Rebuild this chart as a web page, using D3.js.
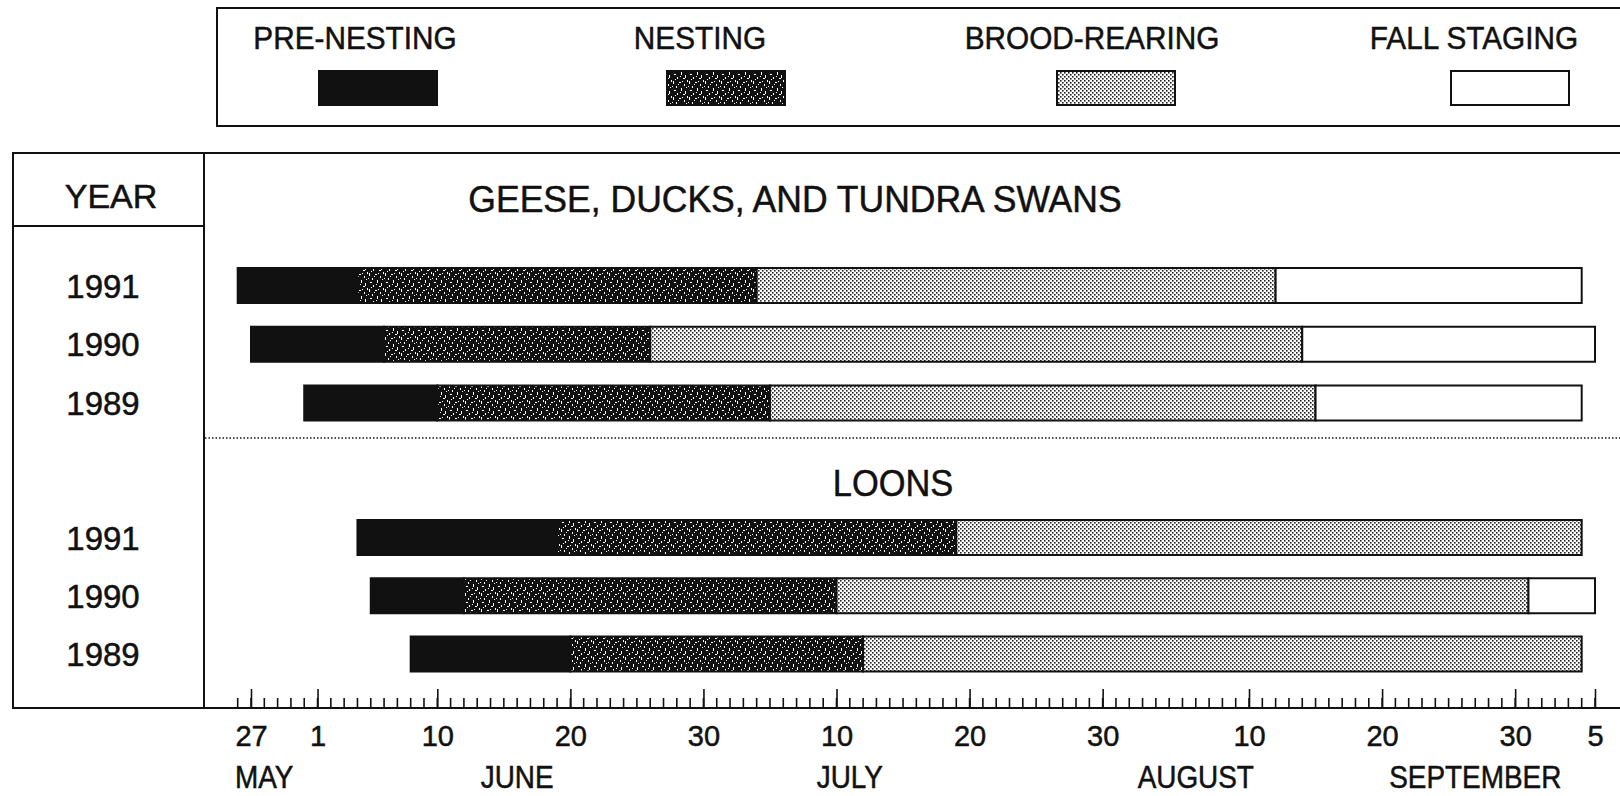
<!DOCTYPE html>
<meta charset="utf-8">
<style>
body { margin: 0; background: #fff; }
svg { display: block; }
text { font-family: "Liberation Sans", Arial, Helvetica, sans-serif; fill: #111; stroke: #111; stroke-width: 0.5; }
.frame { fill: none; stroke: #111; stroke-width: 2; }
.bar { stroke: #111; stroke-width: 2; }
.tick line, .minor { stroke: #111; stroke-width: 1.6; }
</style>
<body>
<svg></svg>
<script src="https://cdn.jsdelivr.net/npm/d3@7"></script>
<script>

// stage names, in order along each bar
const stages = ["PRE-NESTING", "NESTING", "BROOD-REARING", "FALL STAGING"];
const years = ["1991", "1990", "1989"];

// dates where each stage begins, last value = end of the bar (mm-dd)
const geese1991 = ["05-26", "06-04", "07-04", "08-12", "09-04"];
const geese1990 = ["05-27", "06-06", "06-26", "08-14", "09-05"];
const geese1989 = ["05-31", "06-10", "07-05", "08-15", "09-04"];
const loons1991 = ["06-04", "06-19", "07-19", "09-04"];
const loons1990 = ["06-05", "06-12", "07-10", "08-31", "09-05"];
const loons1989 = ["06-08", "06-20", "07-12", "09-04"];

// axis labels
const tickDates = ["05-27", "06-01", "06-10", "06-20", "06-30", "07-10", "07-20", "07-30", "08-10", "08-20", "08-30", "09-05"];
const monthNames = ["MAY", "JUNE", "JULY", "AUGUST", "SEPTEMBER"];
const monthAt = ["05-28", "06-16", "07-11", "08-06", "08-27"];

const groups = [
  {title: "GEESE, DUCKS, AND TUNDRA SWANS", rows: [geese1991, geese1990, geese1989], top: 285.5, bottom: 403, titleY: 212},
  {title: "LOONS", rows: [loons1991, loons1990, loons1989], top: 537.5, bottom: 654, titleY: 496}
];

const W = 1620, H = 796;
const frame = {left: 13, top: 153, bottom: 708, split: 204};
const parse = d3.timeParse("%m-%d");

const svg = d3.select("svg").attr("width", W).attr("height", H);

const x = d3.scaleTime()
  .domain([parse("05-27"), parse("09-05")])
  .range([251, 1595]);

function condense(sel, k) {
  sel.each(function() {
    const w = this.getComputedTextLength();
    d3.select(this).attr("textLength", w * k).attr("lengthAdjust", "spacingAndGlyphs");
  });
}

// fill patterns
const defs = svg.append("defs");
const nest = defs.append("pattern").attr("id", "nesting")
  .attr("patternUnits", "userSpaceOnUse").attr("width", 16).attr("height", 16);
nest.append("rect").attr("width", 16).attr("height", 16).attr("fill", "#111");
const specks = [[1,1,1,3],[4,6,1,2],[7,2,2,1],[9,8,1,3],[12,4,1,2],[2,10,2,1],[10,1,1,1],
  [5,13,1,2],[13,11,1,3],[6,4,1,1],[15,0,1,2],[0,6,1,1],[8,12,1,1],[11,14,2,1],[3,15,1,1],[14,7,1,1]];
nest.selectAll("rect.s").data(specks).enter().append("rect").attr("class", "s")
  .attr("x", d => d[0]).attr("y", d => d[1]).attr("width", d => d[2]).attr("height", d => d[3])
  .attr("fill", "#fff");

const brood = defs.append("pattern").attr("id", "brood")
  .attr("patternUnits", "userSpaceOnUse").attr("width", 4).attr("height", 4);
brood.append("rect").attr("width", 4).attr("height", 4).attr("fill", "#fff");
brood.append("rect").attr("x", 0).attr("y", 0).attr("width", 1.6).attr("height", 1.6).attr("fill", "#222");
brood.append("rect").attr("x", 2).attr("y", 2).attr("width", 1.6).attr("height", 1.6).attr("fill", "#222");

const fills = ["#111", "url(#nesting)", "url(#brood)", "#fff"];

// legend
const legendX = [378, 726, 1116, 1510];
const legendTextX = [355, 700, 1092, 1474];
svg.append("rect").attr("class", "frame")
  .attr("x", 217).attr("y", 8).attr("width", 1420).attr("height", 118);
const lg = svg.selectAll(".legend").data(stages).enter().append("g").attr("class", "legend");
lg.append("text")
  .attr("x", (d, i) => legendTextX[i]).attr("y", 49)
  .attr("text-anchor", "middle").style("font-size", "32px")
  .text(d => d)
  .call(condense, 0.93);
lg.append("rect").attr("class", "bar")
  .attr("x", (d, i) => legendX[i] - 59).attr("y", 71)
  .attr("width", 118).attr("height", 34)
  .attr("fill", (d, i) => fills[i]);

// main frame
svg.append("path").attr("class", "frame")
  .attr("d", `M${W + 5},${frame.top}H${frame.left}V${frame.bottom}H${W + 5}`);
svg.append("line").attr("class", "frame")
  .attr("x1", frame.split).attr("x2", frame.split).attr("y1", frame.top).attr("y2", frame.bottom);
svg.append("line").attr("class", "frame")
  .attr("x1", frame.left).attr("x2", frame.split).attr("y1", 226).attr("y2", 226);
svg.append("text").attr("x", 111).attr("y", 208).attr("text-anchor", "middle")
  .style("font-size", "34px").text("YEAR");

// dotted separator between the two groups
svg.append("line")
  .attr("x1", frame.split + 1).attr("x2", W).attr("y1", 438).attr("y2", 438)
  .attr("stroke", "#111").attr("stroke-width", 1.5).attr("stroke-dasharray", "1.5,2");

const barH = 35;
groups.forEach(function(g) {
  const y = d3.scalePoint().domain(years).range([g.top, g.bottom]);

  svg.append("text")
    .attr("x", g.title === "LOONS" ? 893 : 795).attr("y", g.titleY)
    .attr("text-anchor", "middle").style("font-size", "37px")
    .text(g.title)
    .call(condense, g.title === "LOONS" ? 0.93 : 0.96);

  years.forEach(function(yr, r) {
    const b = g.rows[r].map(parse);
    const segs = d3.pairs(b).map((p, i) => ({from: p[0], to: p[1], stage: i}));

    svg.append("text")
      .attr("x", 103).attr("y", y(yr) + 12)
      .attr("text-anchor", "middle").style("font-size", "33px")
      .text(yr);

    svg.selectAll(null).data(segs).enter().append("rect")
      .attr("class", "bar")
      .attr("x", d => x(d.from))
      .attr("y", y(yr) - barH / 2)
      .attr("width", d => x(d.to) - x(d.from))
      .attr("height", barH)
      .attr("fill", d => fills[d.stage]);
  });
});

// daily ticks
const days = d3.timeDay.range(parse("05-26"), d3.timeDay.offset(parse("09-05"), 1));
svg.selectAll(".minor").data(days).enter().append("line")
  .attr("class", "minor")
  .attr("x1", d => x(d)).attr("x2", d => x(d))
  .attr("y1", frame.bottom).attr("y2", frame.bottom - 10);

const axis = svg.append("g")
  .attr("transform", `translate(0,${frame.bottom})`)
  .call(d3.axisBottom(x)
    .tickValues(tickDates.map(parse))
    .tickFormat(d3.timeFormat("%-d"))
    .tickSize(-19)
    .tickPadding(17));
axis.select(".domain").remove();
axis.selectAll("text").style("font-size", "29px")
  .attr("font-family", null);

svg.selectAll(".month").data(monthNames).enter().append("text")
  .attr("class", "month")
  .attr("x", (d, i) => x(parse(monthAt[i])))
  .attr("y", 788)
  .attr("text-anchor", "middle").style("font-size", "31px")
  .text(d => d)
  .call(condense, 0.9);

</script>
</body>
